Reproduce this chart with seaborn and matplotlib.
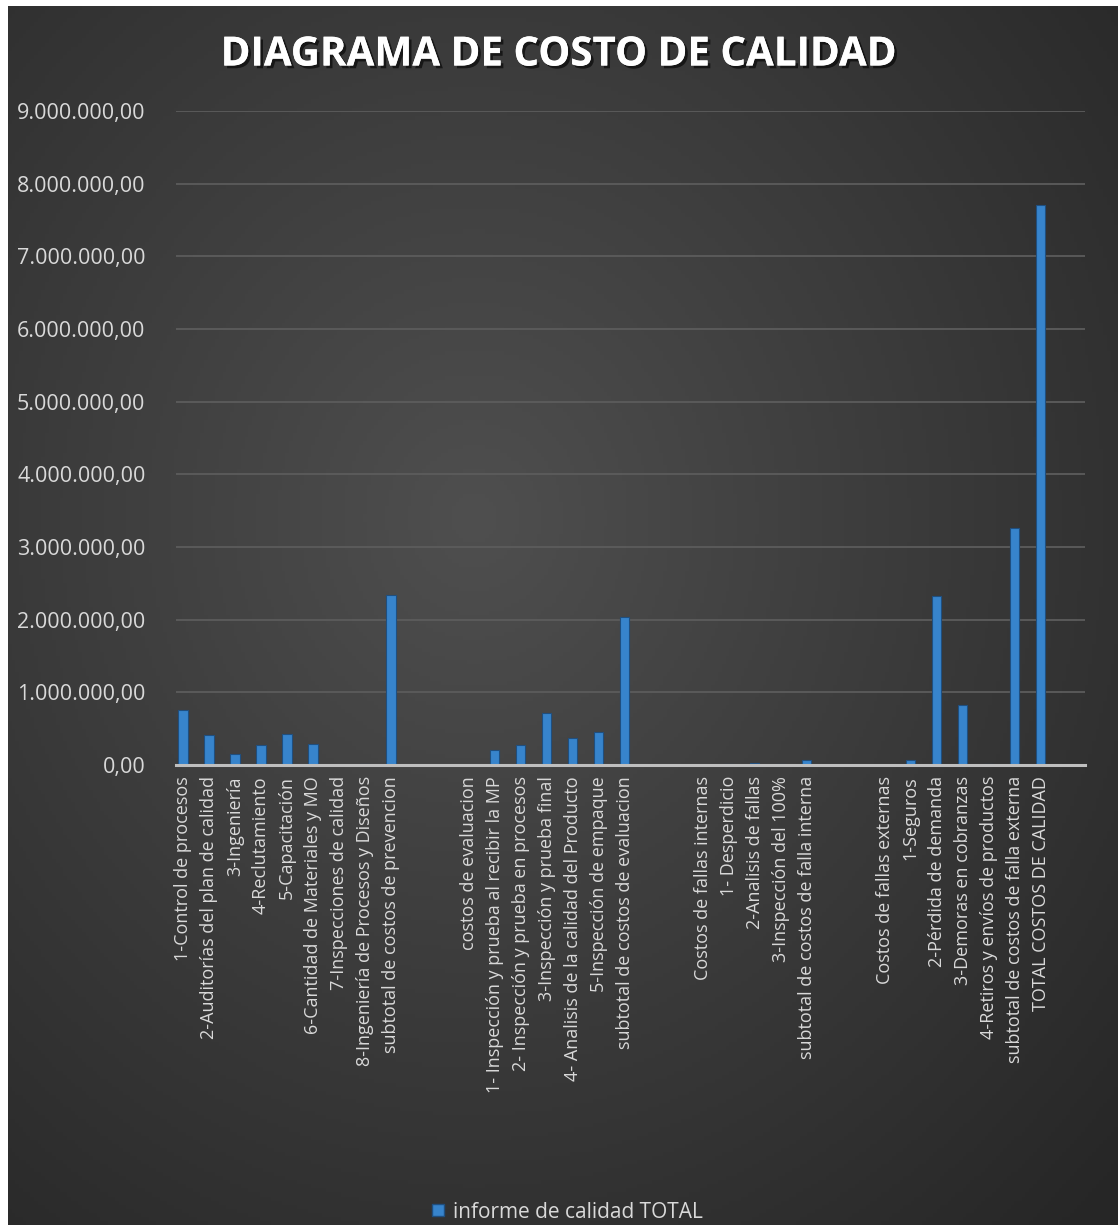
import numpy as np
import pandas as pd
import matplotlib
matplotlib.use("Agg")
import matplotlib.pyplot as plt
import seaborn as sns
from matplotlib.ticker import FuncFormatter
from matplotlib.lines import Line2D
import matplotlib.patheffects as pe

# categorias (los blancos son filas vacias de la planilla)
categorias = [
    "1-Control de procesos", "2-Auditorías del plan de calidad", "3-Ingeniería",
    "4-Reclutamiento", "5-Capacitación", "6-Cantidad de Materiales y MO",
    "7-Inspecciones de calidad", "8-Ingeniería de Procesos y Diseños",
    "subtotal de costos de prevencion", " ", "  ",
    "costos de evaluacion", "1- Inspección y prueba al recibir la MP",
    "2- Inspección y prueba en procesos", "3-Inspección y prueba final",
    "4- Analisis de la calidad del Producto", "5-Inspección de empaque",
    "subtotal de costos de evaluacion", "   ", "    ",
    "Costos de fallas internas", "1- Desperdicio", "2-Analisis de fallas",
    "3-Inspección del 100%", "subtotal de costos de falla interna", "     ", "      ",
    "Costos de fallas externas", "1-Seguros", "2-Pérdida de demanda",
    "3-Demoras en cobranzas", "4-Retiros y envíos de productos",
    "subtotal de costos de falla externa", "TOTAL COSTOS DE CALIDAD",
]
valores = [
    757000, 410000, 150000, 275000, 430000, 290000,
    0, 8000, 2340000, 0, 0,
    0, 210000, 275000, 715000, 370000, 450000, 2030000, 0, 0,
    0, 10000, 30000, 10000, 70000, 0, 0,
    0, 67000, 2330000, 830000, 12000, 3260000, 7710000,
]
serie = "informe de calidad TOTAL"

df = pd.DataFrame({"categoria": categorias, "valor": valores})

sns.set_theme(style="dark")
plt.rcParams['font.family'] = ['Open Sans', 'DejaVu Sans']

W, H = 1118, 1225
fig = plt.figure(figsize=(W / 100, H / 100), dpi=100, facecolor="white")

# fondo oscuro con degradado radial
bg = fig.add_axes([8 / W, 0, 1 - 8 / W, 1 - 6 / H])
yy, xx = np.mgrid[0:1:300j, 0:1:300j]
r = np.sqrt(((xx - 0.42) / 0.75) ** 2 + ((yy - 0.42) / 0.75) ** 2)
shade = np.clip(0.31 - 0.15 * r, 0.15, 0.31)
bg.imshow(np.dstack([shade] * 3), extent=[0, 1, 0, 1], origin="upper", aspect="auto")
bg.set_axis_off()

ax = fig.add_axes([176 / W, 1 - 765 / H, (1085 - 176) / W, (765 - 111) / H])
ax.patch.set_alpha(0)

sns.barplot(data=df, x="categoria", y="valor", order=categorias, color="#3784cc",
            width=0.35, saturation=1, edgecolor="#1f4f80", linewidth=0.8, ax=ax)

ax.set_ylim(0, 9000000)
ax.set_yticks(np.arange(0, 9000001, 1000000))
ax.set_xlim(-0.27, 34.7)
ax.yaxis.set_major_formatter(FuncFormatter(
    lambda v, p: f"{v:,.2f}".replace(",", "X").replace(".", ",").replace("X", ".")))
ax.grid(axis="y", color="#5c5c5c", linewidth=1.3)
ax.set_axisbelow(True)
for s in ["top", "right", "left"]:
    ax.spines[s].set_visible(False)
ax.spines["bottom"].set_color("#bfbfbf")
ax.spines["bottom"].set_linewidth(2.2)
ax.set_xlabel("")
ax.set_ylabel("")
ax.tick_params(axis="y", colors="#d9d9d9", labelsize=15.5, length=0, pad=22)
ax.tick_params(axis="x", colors="#d9d9d9", labelsize=13, length=0, pad=8)
for lab in ax.get_xticklabels():
    lab.set_rotation(90)
    lab.set_ha("center")
    lab.set_va("top")

fig.text(559 / W, 1 - 55 / H, "DIAGRAMA DE COSTO DE CALIDAD", ha="center", va="center",
         fontsize=29, fontweight="bold", color="white",
         path_effects=[pe.withSimplePatchShadow(offset=(2, -2), shadow_rgbFace="black", alpha=0.6),
                       pe.Normal()])

handle = Line2D([], [], marker="s", linestyle="none", markersize=9,
                markerfacecolor="#3784cc", markeredgecolor="#1f4f80")
fig.legend([handle], [serie], loc="center", bbox_to_anchor=(566 / W, 1 - 1212 / H),
           frameon=False, fontsize=15, labelcolor="#d9d9d9",
           handlelength=0.8, handletextpad=0.3)

fig.savefig("out.png", dpi=100, facecolor=fig.get_facecolor())
